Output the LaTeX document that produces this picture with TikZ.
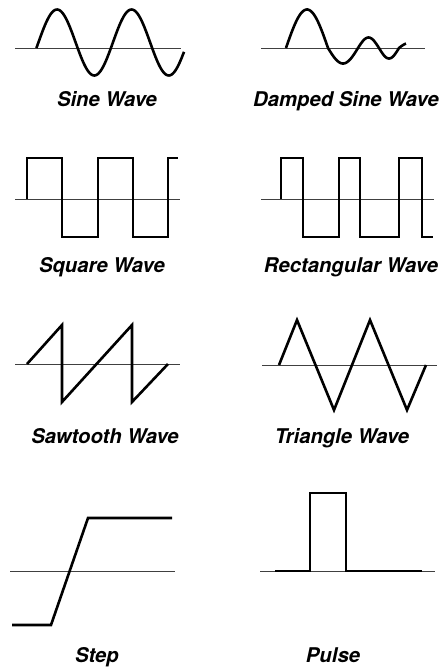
\documentclass[tikz,border=0pt]{standalone}
\usepackage{fontspec}
\setmainfont{TeX Gyre Heros}
\tikzset{
  wave/.style={line width=2.6pt, black, line join=miter},
  axis/.style={line width=1pt, black!75},
  lbl/.style={anchor=base, inner sep=0pt, font=\bfseries\itshape\fontsize{20.3}{24}\selectfont}
}
\begin{document}
\begin{tikzpicture}[x=1pt,y=-1pt]
\useasboundingbox (0,0) rectangle (444,667);
% axes
\draw[axis] (15,48) -- (181,48);
\draw[axis] (261,48) -- (425,48);
\draw[axis] (15,199) -- (180,199);
\draw[axis] (261,199) -- (434,199);
\draw[axis] (15,364) -- (180,364);
\draw[axis] (262,365) -- (437,365);
\draw[axis] (10,571) -- (175,571);
\draw[axis] (260,571) -- (435,571);
% sine
\draw[wave] plot[domain=36.4:184, samples=120] (\x, {42.5 - 33*sin((\x-38.4)/74.5*360)});
% damped sine
\draw[wave] plot[domain=286:328, samples=40] (\x, {48 - 38.5*sin((\x-286)/42*180)})
  -- plot[domain=328:358, samples=30] (\x, {48 + 15.5*sin((\x-328)/30*180)})
  -- plot[domain=358:379, samples=25] (\x, {48 - 10.5*sin((\x-358)/21*180)})
  -- plot[domain=379:399, samples=25] (\x, {48 + 10.5*sin((\x-379)/20*180)})
  -- plot[domain=399:406, samples=10] (\x, {48 - 5*sin((\x-399)/20*180)});
% square
\draw[wave] (27,199) -- (27,158) -- (62,158) -- (62,237) -- (98,237) -- (98,158)
  -- (133,158) -- (133,237) -- (168,237) -- (168,158) -- (178,158);
% rectangular
\draw[wave] (281,199) -- (281,158) -- (303,158) -- (303,237) -- (339,237) -- (339,158)
  -- (360,158) -- (360,237) -- (399,237) -- (399,158) -- (422,158) -- (422,237) -- (433,237);
% sawtooth
\draw[wave] (27,364) -- (62,325) -- (62,402) -- (132,325) -- (132,402) -- (168,364);
% triangle
\draw[wave] (279,365) -- (297,320) -- (334,410) -- (370,320) -- (407,410) -- (426,365);
% step
\draw[wave] (12,625) -- (51,625) -- (88,518) -- (172,518);
% pulse
\draw[wave] (275,571) -- (310,571) -- (310,493) -- (346,493) -- (346,571) -- (422,571);
% labels
\node[lbl] (l1) at (107,106) {Sine Wave};
\node[lbl] (l2) at (346,106) {Damped Sine Wave};
\node[lbl] (l3) at (102,272) {Square Wave};
\node[lbl] (l4) at (351,272) {Rectangular Wave};
\node[lbl] (l5) at (105,443) {Sawtooth Wave};
\node[lbl] (l6) at (342,443) {Triangle Wave};
\node[lbl] (l7) at (97,662) {Step};
\node[lbl] (l8) at (333,662) {Pulse};
\end{tikzpicture}
\end{document}
